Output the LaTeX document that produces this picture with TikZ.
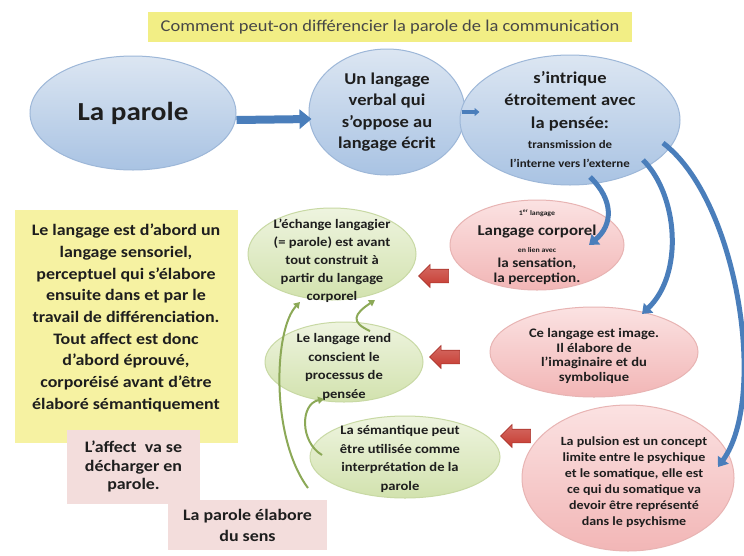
\documentclass[tikz,border=0pt]{standalone}
\usepackage{fontspec}
\setmainfont{Carlito}[FakeStretch=1.12]
\usetikzlibrary{shapes.geometric,shapes.arrows,arrows.meta,calc}
\definecolor{blueT}{HTML}{DCE6F2}
\definecolor{blueB}{HTML}{A9C3E3}
\definecolor{blueBd}{HTML}{9DB7D8}
\definecolor{pinkT}{HTML}{FBE2E2}
\definecolor{pinkB}{HTML}{F2B6B6}
\definecolor{pinkBd}{HTML}{E8B4B3}
\definecolor{greenT}{HTML}{EEF4DF}
\definecolor{greenB}{HTML}{D2E2AE}
\definecolor{greenBd}{HTML}{C8D9A4}
\definecolor{arrBlue}{HTML}{4A7EBB}
\definecolor{arrGreen}{HTML}{8CA957}
\definecolor{arrRed}{HTML}{C63A30}
\definecolor{titleY}{HTML}{F2EE85}
\definecolor{boxY}{HTML}{F6F2A2}
\definecolor{boxP}{HTML}{F3DDDC}
\definecolor{txt}{HTML}{1E1E1E}
\tikzset{
  ellbase/.style={ellipse, inner sep=0pt, line width=1pt},
  blueell/.style={ellbase, draw=blueBd, top color=blueT, bottom color=blueB},
  pinkell/.style={ellbase, draw=pinkBd, top color=pinkT, bottom color=pinkB},
  greenell/.style={ellbase, draw=greenBd, top color=greenT, bottom color=greenB},
  lbl/.style={align=center, inner sep=0pt, text=txt, font=\bfseries},
  bluearr/.style={draw=arrBlue, line width=5pt, -{Triangle[length=9pt,width=13pt]}},
  greenarr/.style={draw=arrGreen, line width=2pt, -{Triangle[length=6pt,width=7pt]}},
  redarr/.style={single arrow, shape border rotate=180, top color=arrRed!75!white, bottom color=arrRed,
     draw=arrRed!85!black, line width=0.6pt, minimum height=30pt, minimum width=23pt,
     single arrow head extend=4pt, inner xsep=0pt, inner ysep=5.5pt},
}
\begin{document}
\begin{tikzpicture}[x=1pt,y=-1pt]
\useasboundingbox (0,0) rectangle (744,555);
\fill[white] (0,0) rectangle (744,555);
% title
\node[fill=titleY, minimum width=484pt, minimum height=30pt, inner sep=0pt] (title) at (390,27) {};
\node[align=center, inner sep=0pt, text=black!72, font=\fontsize{16.5}{19}\selectfont] (titlet) at (title) {Comment peut-on différencier la parole de la communication};
% blue ellipses
\node[blueell, minimum width=206pt, minimum height=114pt] (e1) at (133,113) {};
\node[lbl, font=\bfseries\fontsize{26}{30}\selectfont] (e1t) at (e1) {La parole};
\node[blueell, minimum width=156pt, minimum height=126pt] (e2) at (387,112) {};
\node[lbl, font=\bfseries\fontsize{16.5}{21.5}\selectfont] (e2t) at (e2) {Un langage\\verbal qui\\s’oppose au\\langage écrit};
\node[blueell, minimum width=220pt, minimum height=130pt] (e3) at (570,120) {};
\node[lbl, font=\bfseries\fontsize{16.5}{22.5}\selectfont, anchor=north] (e3t) at (570,71) {s’intrique\\étroitement avec\\la pensée:\\[-2pt]{\fontsize{11.5}{18}\selectfont transmission de}\\[-4pt]{\fontsize{11.5}{18}\selectfont l’interne vers l’externe}};
% arrows between blue ellipses
\draw[draw=arrBlue, line width=8pt, -{Triangle[length=12pt,width=19pt]}] ($(e1.east)+(0,7)$) -- ($(e2.west)+(3,7)$);
\draw[draw=arrBlue, line width=3.5pt, -{Triangle[length=5pt,width=8pt]}] ($(e2.east)+(-4,0)$) -- ($(e3.west)+(20,-8)$);
% pink ellipses
\node[pinkell, minimum width=174pt, minimum height=90pt] (p1) at (537,245) {};
\node[lbl, font=\bfseries\fontsize{13.5}{15}\selectfont] (p1t) at ($(p1)+(0,2)$) {{\fontsize{7}{9}\selectfont 1\textsuperscript{er} langage}\\[5pt]{\fontsize{15}{18}\selectfont Langage corporel}\\[2pt]{\fontsize{7}{9}\selectfont en lien avec}\\{la sensation,}\\{la perception.}};
\node[pinkell, minimum width=208pt, minimum height=90pt] (p2) at (594,352) {};
\node[lbl, font=\bfseries\fontsize{13}{14.8}\selectfont] (p2t) at ($(p2)+(0,4)$) {Ce langage est image.\\Il élabore de\\l’imaginaire et du\\symbolique};
\node[pinkell, minimum width=212pt, minimum height=146pt] (p3) at (628,478) {};
\node[lbl, font=\bfseries\fontsize{12.5}{16}\selectfont] (p3t) at ($(p3)+(6,4)$) {La pulsion est un concept\\limite entre le psychique\\et le somatique, elle est\\ce qui du somatique va\\devoir être représenté\\dans le psychisme};
% green ellipses
\node[greenell, minimum width=168pt, minimum height=92pt] (g1) at (332,254) {};
\node[lbl, font=\bfseries\fontsize{13}{18}\selectfont] (g1t) at ($(g1)+(0,7)$) {L’échange langagier\\(= parole) est avant\\tout construit à\\partir du langage\\corporel};
\node[greenell, minimum width=158pt, minimum height=80pt] (g2) at (344,362) {};
\node[lbl, font=\bfseries\fontsize{13}{18.5}\selectfont] (g2t) at ($(g2)+(0,5)$) {Le langage rend\\conscient le\\processus de\\pensée};
\node[greenell, minimum width=190pt, minimum height=82pt] (g3) at (405,457) {};
\node[lbl, font=\bfseries\fontsize{13}{18.5}\selectfont] (g3t) at ($(g3)+(-5,2)$) {La sémantique peut\\être utilisée comme\\interprétation de la\\parole};
% red arrows
\node[redarr] (r1) at (437,276) {};
\node[redarr] (r2) at (448,357) {};
\node[redarr] (r3) at (519,436) {};
% blue curved arrows
\draw[bluearr] ($(e3.center)+(20,57)$) .. controls ($(e3.center)+(44,80)$) and ($(p1.center)+(76,-20)$) .. ($(p1.center)+(52,0)$);
\draw[bluearr] ($(e3.center)+(73,40)$) .. controls ($(e3.center)+(108,75)$) and ($(p2.center)+(90,-78)$) .. ($(p2.center)+(48,-38)$);
\draw[bluearr] ($(e3.center)+(93,23)$) .. controls ($(e3.center)+(168,80)$) and ($(p3.center)+(140,-80)$) .. ($(p3.center)+(90,-11)$);
% green curved arrows
\draw[greenarr] ($(g3.center)+(-97,31)$) .. controls ($(g3.center)+(-135,-20)$) and ($(g1.center)+(-58,75)$) .. ($(g1.center)+(-32,48)$);
\draw[greenarr] ($(g3.center)+(-83,-2)$) .. controls ($(g3.center)+(-105,-15)$) and ($(g2.center)+(-44,42)$) .. ($(g2.center)+(-20,37)$);
\draw[greenarr] ($(g2.center)+(26,-31)$) .. controls ($(g2.center)+(6,-40)$) and ($(g1.center)+(22,60)$) .. ($(g1.center)+(43,46)$);
% left boxes
\node[fill=boxY, minimum width=223pt, minimum height=233pt, inner sep=0pt] (yb) at (126.5,326.5) {};
\node[lbl, font=\bfseries\fontsize{16}{21.7}\selectfont] (ybt) at (126,318) {Le langage est d’abord un\\langage sensoriel,\\perceptuel qui s’élabore\\ensuite dans et par le\\travail de différenciation.\\Tout affect est donc\\d’abord éprouvé,\\corporéisé avant d’être\\élaboré sémantiquement};
\node[fill=boxP, minimum width=133pt, minimum height=74pt, inner sep=0pt] (pb1) at (133.5,466.5) {};
\node[lbl, font=\bfseries\fontsize{16}{18.8}\selectfont] (pb1t) at (pb1) {L’affect\ \ va se\\décharger en\\parole.};
\node[fill=boxP, minimum width=159pt, minimum height=50pt, inner sep=0pt] (pb2) at (247.5,525) {};
\node[lbl, font=\bfseries\fontsize{16}{21}\selectfont] (pb2t) at (pb2) {La parole élabore\\du sens};
\end{tikzpicture}
\end{document}
